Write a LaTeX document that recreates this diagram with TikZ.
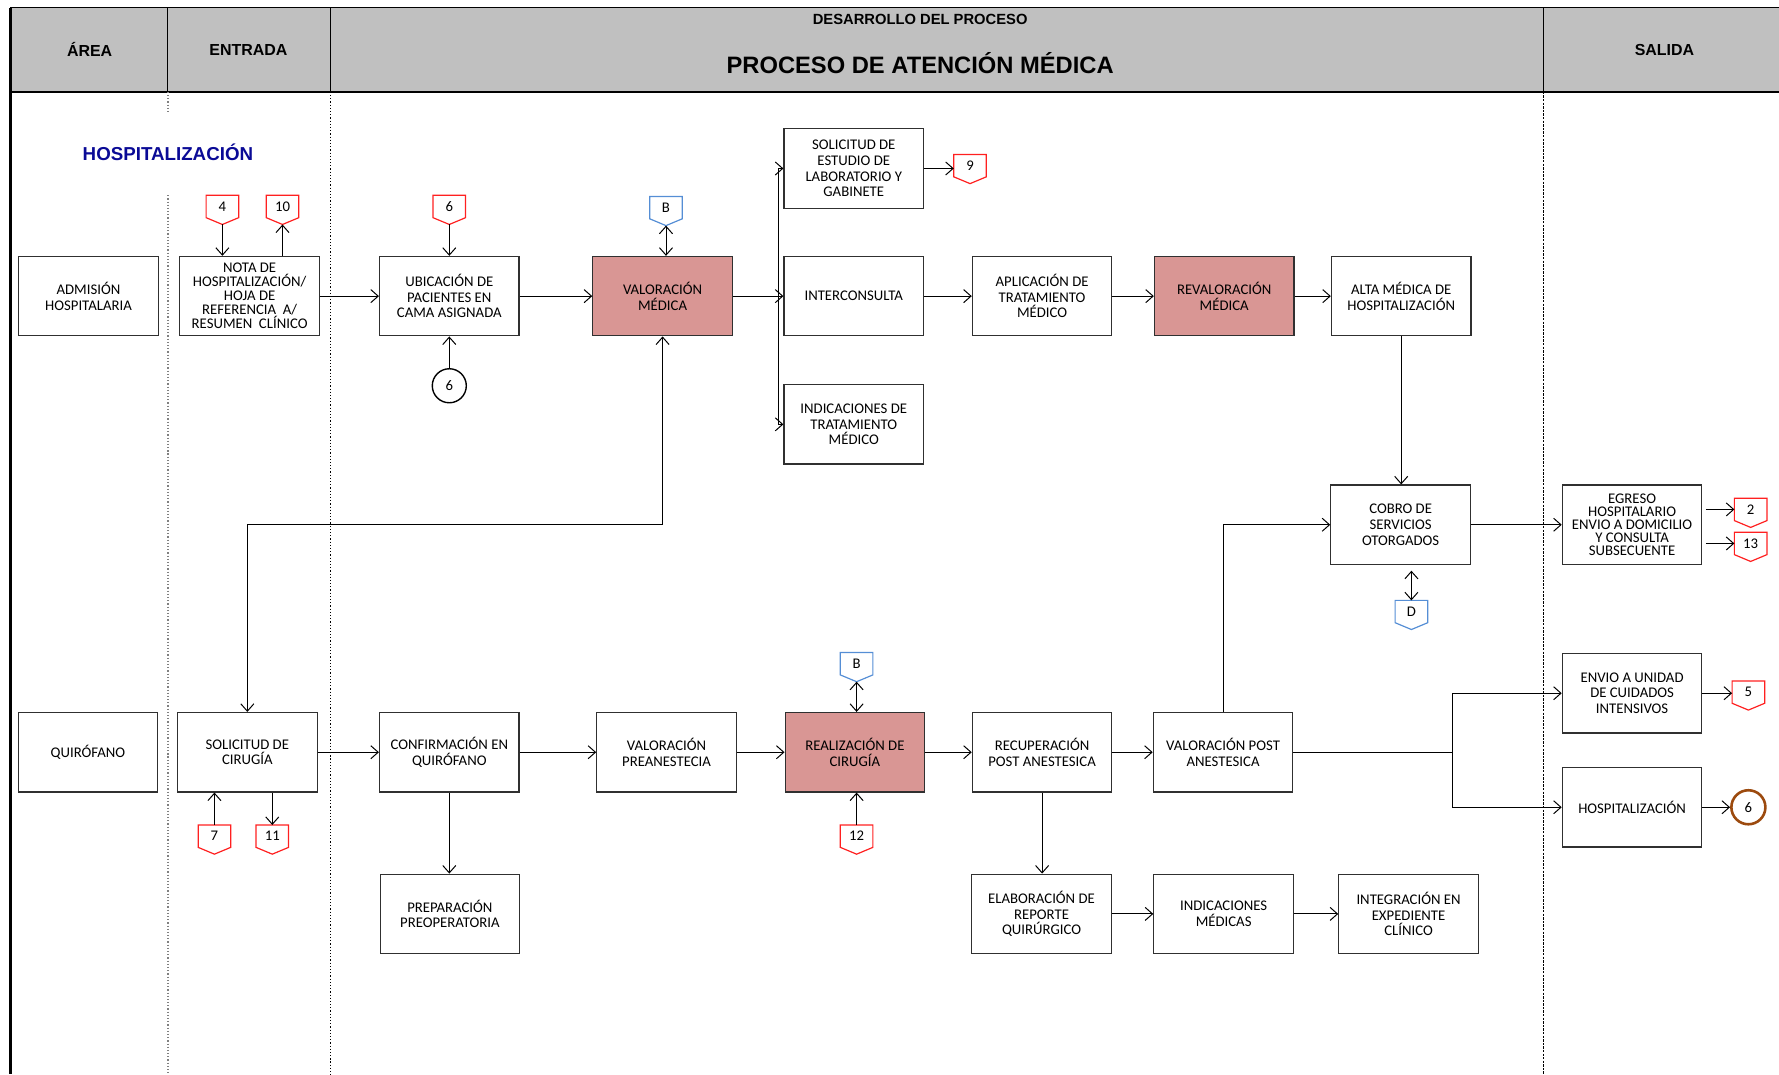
\documentclass[tikz,border=0pt]{standalone}
\usepackage{fontspec}
\setmainfont{Carlito}
\newfontfamily\hfont{Liberation Sans}
\usetikzlibrary{arrows.meta,calc}
\definecolor{hdrgray}{HTML}{C0C0C0}
\definecolor{pinkfill}{HTML}{D99694}
\definecolor{conred}{HTML}{FF2020}
\definecolor{conblue}{HTML}{558ED5}
\definecolor{brownc}{HTML}{9C4A0E}
\definecolor{navyt}{HTML}{0A0A96}
\definecolor{boxline}{HTML}{303030}
\newcommand\pentnode[4]{%
  \node[penttext] (#1) at (#2) {\raisebox{-1.2pt}{#4}};
  \draw[draw=#3, line width=0.6pt, line join=miter] (#1.north west) -- (#1.north east) -- (#1.south east) -- ([yshift=-0.12cm]#1.south) -- (#1.south west) -- cycle;
  \coordinate (#1tip) at ([yshift=-0.12cm]#1.south);
}
\begin{document}
\begin{tikzpicture}[x=0.02cm, y=-0.02cm,
  box/.style={draw=boxline, line width=0.6pt, minimum width=2.46cm, minimum height=1.4cm, align=center, inner sep=1pt, font=\fontsize{7.4}{7.9}\selectfont},
  hot/.style={box, fill=pinkfill},
  penttext/.style={minimum width=0.56cm, minimum height=0.38cm, inner sep=0pt, font=\fontsize{7.4}{8}\selectfont},
  arr/.style={-{Straight Barb[length=1.3mm,width=2.3mm]}, line width=0.5pt},
  darr/.style={{Straight Barb[length=1.3mm,width=2.3mm]}-{Straight Barb[length=1.3mm,width=2.3mm]}, line width=0.5pt},
  hdr/.style={font=\hfont\bfseries\fontsize{8}{9}\selectfont}
]
\useasboundingbox (0,0) rectangle (1568,947);
% header
\fill[hdrgray] (9,7) rectangle (1568,81);
\draw[line width=0.5pt] (9,7) -- (1568,7);
\draw[line width=0.5pt] (148,7) -- (148,81) (291,7) -- (291,81) (1360,7) -- (1360,81);
\draw[line width=1.3pt] (9,81) -- (1568,81);
\draw[line width=1.3pt] (9,7) -- (9,947);
\draw[densely dotted, gray, line width=0.6pt] (148,81) -- (148,100) (148,172) -- (148,947);
\draw[densely dotted, line width=0.6pt] (291,81) -- (291,947);
\draw[dash pattern=on 1.2pt off 0.6pt, line width=0.5pt] (1360,81) -- (1360,947);
\node[hdr] (hArea) at (79,44) {ÁREA};
\node[hdr] (hEnt) at (219,44) {ENTRADA};
\node[font=\hfont\bfseries\fontsize{7.4}{9}\selectfont] (hDes) at (811,17) {DESARROLLO DEL PROCESO};
\node[font=\hfont\bfseries\fontsize{11.9}{13}\selectfont] (hProc) at (811,56) {PROCESO DE ATENCIÓN MÉDICA};
\node[hdr] (hSal) at (1467,44) {SALIDA};
\node[font=\hfont\bfseries\fontsize{9.4}{11}\selectfont, text=navyt] (hHosp) at (148,134) {HOSPITALIZACIÓN};
% boxes
\node[box] (adm) at (78,261) {ADMISIÓN\\HOSPITALARIA};
\node[box, font=\fontsize{7.4}{7}\selectfont] (nota) at (220,261) {NOTA DE\\HOSPITALIZACIÓN/\\HOJA DE\\REFERENCIA~~A/\\RESUMEN~~CLÍNICO};
\node[box] (ubic) at (396,261) {UBICACIÓN DE\\PACIENTES EN\\CAMA ASIGNADA};
\node[hot] (vm) at (584,261) {VALORACIÓN\\MÉDICA};
\node[box] (sol) at (752.5,148.5) {SOLICITUD DE\\ESTUDIO DE\\LABORATORIO Y\\GABINETE};
\node[box] (inter) at (752.5,261) {INTERCONSULTA};
\node[box] (indt) at (752.5,374) {INDICACIONES DE\\TRATAMIENTO\\MÉDICO};
\node[box] (apl) at (918.5,261) {APLICACIÓN DE\\TRATAMIENTO\\MÉDICO};
\node[hot] (reval) at (1079,261) {REVALORACIÓN\\MÉDICA};
\node[box] (alta) at (1235,261) {ALTA MÉDICA DE\\HOSPITALIZACIÓN};
\node[box] (cobro) at (1234.5,462.5) {COBRO DE\\SERVICIOS\\OTORGADOS};
\node[box, font=\fontsize{7.4}{6.6}\selectfont] (egreso) at (1438.5,462.5) {EGRESO\\HOSPITALARIO\\ENVIO A DOMICILIO\\Y CONSULTA\\SUBSECUENTE};
\node[box] (envio) at (1438.5,611) {ENVIO A UNIDAD\\DE CUIDADOS\\INTENSIVOS};
\node[box] (hosp) at (1438.5,711.5) {HOSPITALIZACIÓN};
\node[box] (quir) at (77.5,663) {QUIRÓFANO};
\node[box] (scir) at (218,663) {SOLICITUD DE\\CIRUGÍA};
\node[box] (conf) at (396,663) {CONFIRMACIÓN EN\\QUIRÓFANO};
\node[box] (prep) at (396.5,805.5) {PREPARACIÓN\\PREOPERATORIA};
\node[box] (vpre) at (587.5,663) {VALORACIÓN\\PREANESTECIA};
\node[hot] (real) at (753.5,663) {REALIZACIÓN DE\\CIRUGÍA};
\node[box] (recu) at (918.5,663) {RECUPERACIÓN\\POST ANESTESICA};
\node[box] (vpost) at (1078,663) {VALORACIÓN POST\\ANESTESICA};
\node[box] (elab) at (918,805.5) {ELABORACIÓN DE\\REPORTE\\QUIRÚRGICO};
\node[box] (indm) at (1078.5,805.5) {INDICACIONES\\MÉDICAS};
\node[box] (integ) at (1241.5,805.5) {INTEGRACIÓN EN\\EXPEDIENTE\\CLÍNICO};
% off-page connectors
\pentnode{p4}{196,182}{conred}{4}
\pentnode{p10}{249,182}{conred}{10}
\pentnode{p6}{396,182}{conred}{6}
\pentnode{pBa}{587,183}{conblue}{B}
\pentnode{p9}{855,146}{conred}{9}
\pentnode{p2}{1543,449}{conred}{2}
\pentnode{p13}{1543,479}{conred}{13}
\pentnode{pD}{1244,539}{conblue}{D}
\pentnode{pBb}{755,585}{conblue}{B}
\pentnode{p5}{1541,610}{conred}{5}
\pentnode{p7}{189,737}{conred}{7}
\pentnode{p11}{240,737}{conred}{11}
\pentnode{p12}{755,737}{conred}{12}
\node[circle, draw=black, line width=0.7pt, minimum size=0.6cm, inner sep=0pt, font=\fontsize{7.4}{8}\selectfont] (c6a) at (396,340) {6};
\node[circle, draw=brownc, line width=1.3pt, minimum size=0.6cm, inner sep=0pt, font=\fontsize{7.4}{8}\selectfont] (c6b) at (1541,711.5) {6};
% connectors top lane
\draw[arr] (p4tip) -- (p4tip |- nota.north);
\draw[arr] (p10tip |- nota.north) -- (p10tip);
\draw[arr] (nota.east) -- (ubic.west);
\draw[arr] (p6tip) -- (ubic.north);
\draw[arr] (c6a.north) -- (ubic.south);
\draw[arr] (ubic.east) -- (vm.west);
\draw[darr] (pBatip) -- (pBatip |- vm.north);
\draw[arr] (vm.east) -- (inter.west);
\coordinate (brA) at (686,148.5);
\coordinate (brB) at (686,374);
\draw[line width=0.5pt] (brA) -- (brB);
\draw[arr] (brA) -- (sol.west);
\draw[arr] (brB) -- (indt.west);
\draw[arr] (sol.east) -- (sol.east -| p9.west);
\draw[arr] (inter.east) -- (apl.west);
\draw[arr] (apl.east) -- (reval.west);
\draw[arr] (reval.east) -- (alta.west);
\draw[arr] (alta.south) -- (alta.south |- cobro.north);
\draw[arr] (cobro.east) -- (cobro.east -| egreso.west);
\draw[arr] ([xshift=0.06cm]egreso.east |- p2.west) -- (p2.west);
\draw[arr] ([xshift=0.06cm]egreso.east |- p13.west) -- (p13.west);
\draw[darr] ([yshift=-0.1cm]pD.north |- cobro.south) -- (pD.north);
\draw[darr] (vm.south) -- ++(0,166) -| (scir.north);
% connectors bottom lane
\draw[arr] (scir.east) -- (conf.west);
\draw[arr] (p7.north) -- (p7.north |- scir.south);
\draw[arr] (p11.north |- scir.south) -- (p11.north);
\draw[arr] (conf.east) -- (vpre.west);
\draw[arr] (conf.south) -- (conf.south |- prep.north);
\draw[arr] (vpre.east) -- (real.west);
\draw[darr] (pBbtip) -- (pBbtip |- real.north);
\draw[arr] (p12.north) -- (p12.north |- real.south);
\draw[arr] (real.east) -- (recu.west);
\draw[arr] (recu.east) -- (vpost.west);
\draw[arr] (recu.south) -- (recu.south |- elab.north);
\draw[arr] (elab.east) -- (indm.west);
\draw[arr] (indm.east) -- (integ.west);
\draw[arr] (vpost.north) |- (cobro.west);
\coordinate (spl) at (1280,663);
\draw[line width=0.5pt] (vpost.east) -- (spl);
\draw[arr] (spl) |- (envio.west);
\draw[arr] (spl) |- (hosp.west);
\draw[arr] (envio.east) -- (envio.east -| p5.west);
\draw[arr] (hosp.east) -- (c6b.west);
\end{tikzpicture}
\end{document}
